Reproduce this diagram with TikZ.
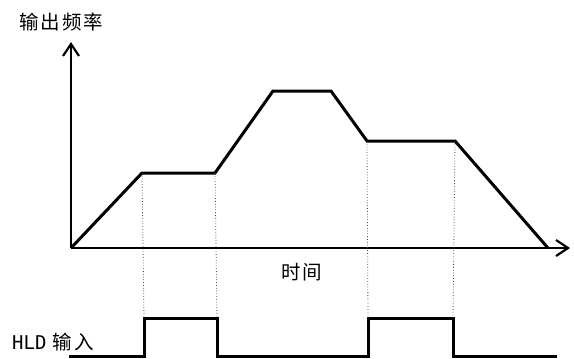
\documentclass[tikz,border=0pt]{standalone}
\usepackage{fontspec}
\newfontfamily\cjk[LetterSpace=10]{Noto Sans CJK SC}
\newfontfamily\mono{DejaVu Sans Mono}
\usetikzlibrary{arrows.meta}
\begin{document}
\begin{tikzpicture}[x=1pt,y=-1pt,
  axis/.style={line width=2.4pt,-{Straight Barb[length=12pt,width=16pt,line width=2.2pt]}},
  curve/.style={line width=3pt,line join=miter},
  guide/.style={line width=0.8pt,dotted,black!70},
  lbl/.style={inner sep=0pt,font=\cjk\fontsize{19.5}{22}\selectfont}]
\useasboundingbox (0,0) rectangle (574,359);
\fill[white] (0,0) rectangle (574,359);
% axes
\coordinate (O) at (71,248);
\coordinate (Ytip) at (71,42);
\coordinate (Xtip) at (570,248);
\draw[axis] (O) -- (Ytip);
\draw[axis] (O) -- (Xtip);
% frequency curve
\coordinate (p1) at (142,173);
\coordinate (p2) at (215,173);
\coordinate (p3) at (273,91);
\coordinate (p4) at (331,91);
\coordinate (p5) at (367,141);
\coordinate (p6) at (455,141);
\coordinate (p7) at (548,248);
\draw[curve] (O) -- (p1) -- (p2) -- (p3) -- (p4) -- (p5) -- (p6) -- (p7);
% pulse signal
\coordinate (s0) at (69,356);
\coordinate (r1b) at (144,356);
\coordinate (r1t) at (144,318);
\coordinate (f1t) at (217,318);
\coordinate (f1b) at (217,356);
\coordinate (r2b) at (368,356);
\coordinate (r2t) at (368,318);
\coordinate (f2t) at (453,318);
\coordinate (f2b) at (453,356);
\coordinate (s1) at (557,356);
\draw[curve] (s0) -- (r1b) -- (r1t) -- (f1t) -- (f1b) -- (r2b) -- (r2t) -- (f2t) -- (f2b) -- (s1);
% guides
\draw[guide] (p1) -- (r1t);
\draw[guide] (p2) -- (f1t);
\draw[guide] (p5) -- (r2t);
\draw[guide] (p6) -- (f2t);
% labels
\node[lbl,anchor=west] (ylab) at (19,22) {输出频率};
\node[lbl] (xlab) at (302,272) {时间};
\node[lbl,anchor=west] (hlab) at (12,342) {{\mono\fontsize{19}{20}\selectfont HLD} 输入};
\end{tikzpicture}
\end{document}
